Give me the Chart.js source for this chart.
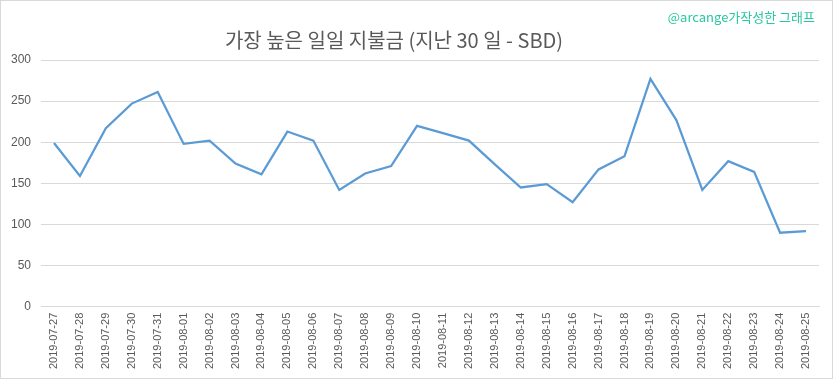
<!DOCTYPE html>
<html>
<head>
<meta charset="utf-8">
<script src="https://cdn.jsdelivr.net/npm/chart.js@4/dist/chart.umd.min.js"></script>
<style>
  html, body { margin: 0; padding: 0; background: #fff; }
  #wrap { position: relative; width: 833px; height: 379px; box-sizing: border-box; border: 1px solid #d9d9d9; overflow: hidden; }
  #c { position: absolute; left: 0; top: 0; }
  #title { position: absolute; left: 0; width: 786px; top: 24px; text-align: center; font-family: "Noto Sans CJK KR", "Noto Sans", sans-serif; font-size: 20px; color: #595959; white-space: nowrap; }
  #mark { position: absolute; right: 17px; top: 6px; font-family: "Noto Sans CJK KR", "DejaVu Sans Mono", monospace; font-size: 13px; color: #28c8a0; white-space: nowrap; }
</style>
</head>
<body>
<div id="wrap">
  <canvas id="c" width="833" height="379"></canvas>
  <div id="title">가장 높은 일일 지불금 (지난 30 일 - SBD)</div>
  <div id="mark">@arcange가작성한 그래프</div>
</div>
<script>
const categories = [
  "2019-07-27","2019-07-28","2019-07-29","2019-07-30","2019-07-31",
  "2019-08-01","2019-08-02","2019-08-03","2019-08-04","2019-08-05",
  "2019-08-06","2019-08-07","2019-08-08","2019-08-09","2019-08-10",
  "2019-08-11","2019-08-12","2019-08-13","2019-08-14","2019-08-15",
  "2019-08-16","2019-08-17","2019-08-18","2019-08-19","2019-08-20",
  "2019-08-21","2019-08-22","2019-08-23","2019-08-24","2019-08-25"
];
const payoutSBD = [
  199, 159, 217, 247, 261,
  198, 202, 174, 161, 213,
  202, 142, 162, 171, 220,
  211, 202, 173, 145, 149,
  127, 167, 183, 277, 227,
  142, 177, 164, 90, 92
];
const yTicks = [0, 50, 100, 150, 200, 250, 300];

new Chart(document.getElementById('c'), {
  type: 'line',
  data: {
    labels: categories,
    datasets: [{
      data: payoutSBD,
      borderColor: '#5b9bd5',
      borderWidth: 2.25,
      pointRadius: 0,
      tension: 0,
      fill: false
    }]
  },
  options: {
    responsive: false,
    animation: false,
    events: [],
    layout: { padding: { top: 59, left: 0, right: 15, bottom: 5 } },
    plugins: { legend: { display: false }, title: { display: false }, tooltip: { enabled: false } },
    scales: {
      x: {
        offset: true,
        grid: { display: false, drawTicks: false },
        border: { display: true, color: '#d9d9d9', width: 1 },
        ticks: {
          maxRotation: 90, minRotation: 90, autoSkip: false, padding: 6,
          color: '#595959', font: { family: 'Liberation Sans', size: 11 }
        }
      },
      y: {
        min: yTicks[0], max: yTicks[yTicks.length - 1],
        afterBuildTicks: (axis) => { axis.ticks = yTicks.map(v => ({ value: v })); },
        grid: { color: '#d9d9d9', lineWidth: 1, drawTicks: false },
        border: { display: false },
        ticks: {
          padding: 10, color: '#595959',
          font: { family: 'Liberation Sans', size: 12 }
        }
      }
    }
  }
});
</script>
</body>
</html>
